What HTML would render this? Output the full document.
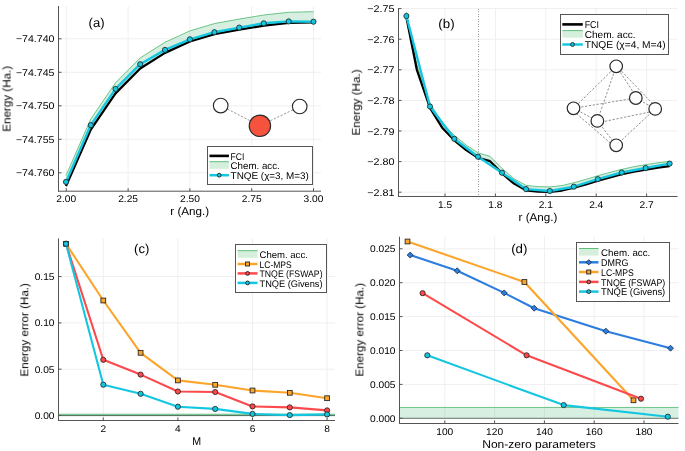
<!DOCTYPE html>
<html><head><meta charset="utf-8"><title>Energy plots</title>
<style>
html,body{margin:0;padding:0;background:#fff;}
body{width:685px;height:451px;overflow:hidden;}
svg{display:block;font-family:"Liberation Sans",sans-serif;}
text{will-change:transform;text-rendering:geometricPrecision;}
</style></head>
<body>
<svg width="685" height="451" viewBox="0 0 685 451">
<rect width="685" height="451" fill="#fff"/>
<line x1="66.3" y1="6" x2="66.3" y2="191.2" stroke="#efefef" stroke-width="1"/>
<line x1="128.1" y1="6" x2="128.1" y2="191.2" stroke="#efefef" stroke-width="1"/>
<line x1="189.9" y1="6" x2="189.9" y2="191.2" stroke="#efefef" stroke-width="1"/>
<line x1="251.7" y1="6" x2="251.7" y2="191.2" stroke="#efefef" stroke-width="1"/>
<line x1="313.5" y1="6" x2="313.5" y2="191.2" stroke="#efefef" stroke-width="1"/>
<line x1="58.5" y1="38.8" x2="321" y2="38.8" stroke="#efefef" stroke-width="1"/>
<line x1="58.5" y1="72.3" x2="321" y2="72.3" stroke="#efefef" stroke-width="1"/>
<line x1="58.5" y1="105.8" x2="321" y2="105.8" stroke="#efefef" stroke-width="1"/>
<line x1="58.5" y1="139.3" x2="321" y2="139.3" stroke="#efefef" stroke-width="1"/>
<line x1="58.5" y1="172.8" x2="321" y2="172.8" stroke="#efefef" stroke-width="1"/>
<polygon points="66,175.5 90.8,119 115.5,82.8 140.2,57.9 165,42.3 189.9,30.9 214.4,23.6 239.2,19.1 263.8,15 288.7,12.3 313.5,11.7 313.5,22.3 288.7,22.9 263.8,25.6 239.2,29.7 214.4,34.2 189.9,41.5 165,52.9 140.2,68.5 115.5,93.4 90.8,129.6 66,186.1" fill="#3cb371" stroke="none" fill-opacity="0.21"/>
<polyline points="66,175.5 90.8,119 115.5,82.8 140.2,57.9 165,42.3 189.9,30.9 214.4,23.6 239.2,19.1 263.8,15 288.7,12.3 313.5,11.7" fill="none" stroke="#6cc48a" stroke-width="1" stroke-linejoin="round" stroke-linecap="butt"/>
<polyline points="66,186.1 90.8,129.6 115.5,93.4 140.2,68.5 165,52.9 189.9,41.5 214.4,34.2 239.2,29.7 263.8,25.6 288.7,22.9 313.5,22.3" fill="none" stroke="#000" stroke-width="2.3" stroke-linejoin="round" stroke-linecap="butt"/>
<polyline points="66,181.9 90.8,125.1 115.5,88.9 140.2,64.2 165,49.9 189.9,39.3 214.4,32.2 239.2,27.6 263.8,23.3 288.7,21.4 313.5,21.7" fill="none" stroke="#14c6e0" stroke-width="2.4" stroke-linejoin="round" stroke-linecap="butt"/>
<circle cx="66" cy="181.9" r="2.6" fill="#14c6e0" stroke="#1e1e1e" stroke-width="0.8"/>
<circle cx="90.8" cy="125.1" r="2.6" fill="#14c6e0" stroke="#1e1e1e" stroke-width="0.8"/>
<circle cx="115.5" cy="88.9" r="2.6" fill="#14c6e0" stroke="#1e1e1e" stroke-width="0.8"/>
<circle cx="140.2" cy="64.2" r="2.6" fill="#14c6e0" stroke="#1e1e1e" stroke-width="0.8"/>
<circle cx="165" cy="49.9" r="2.6" fill="#14c6e0" stroke="#1e1e1e" stroke-width="0.8"/>
<circle cx="189.9" cy="39.3" r="2.6" fill="#14c6e0" stroke="#1e1e1e" stroke-width="0.8"/>
<circle cx="214.4" cy="32.2" r="2.6" fill="#14c6e0" stroke="#1e1e1e" stroke-width="0.8"/>
<circle cx="239.2" cy="27.6" r="2.6" fill="#14c6e0" stroke="#1e1e1e" stroke-width="0.8"/>
<circle cx="263.8" cy="23.3" r="2.6" fill="#14c6e0" stroke="#1e1e1e" stroke-width="0.8"/>
<circle cx="288.7" cy="21.4" r="2.6" fill="#14c6e0" stroke="#1e1e1e" stroke-width="0.8"/>
<circle cx="313.5" cy="21.7" r="2.6" fill="#14c6e0" stroke="#1e1e1e" stroke-width="0.8"/>
<line x1="220.7" y1="105.6" x2="259.9" y2="125.8" stroke="#8a8a8a" stroke-width="0.9" stroke-dasharray="2.2,1.6"/>
<line x1="299.7" y1="106.5" x2="259.9" y2="125.8" stroke="#8a8a8a" stroke-width="0.9" stroke-dasharray="2.2,1.6"/>
<circle cx="220.7" cy="105.6" r="7.3" fill="#fff" stroke="#2a2a2a" stroke-width="1.15"/>
<circle cx="299.7" cy="106.5" r="7.3" fill="#fff" stroke="#2a2a2a" stroke-width="1.15"/>
<circle cx="259.9" cy="125.8" r="10.7" fill="#f5533d" stroke="#2a2a2a" stroke-width="1.15"/>
<line x1="58.5" y1="6" x2="58.5" y2="191.7" stroke="#555555" stroke-width="1"/>
<line x1="58" y1="191.2" x2="321" y2="191.2" stroke="#555555" stroke-width="1"/>
<line x1="66.3" y1="191.2" x2="66.3" y2="188.2" stroke="#555555" stroke-width="1"/>
<line x1="128.1" y1="191.2" x2="128.1" y2="188.2" stroke="#555555" stroke-width="1"/>
<line x1="189.9" y1="191.2" x2="189.9" y2="188.2" stroke="#555555" stroke-width="1"/>
<line x1="251.7" y1="191.2" x2="251.7" y2="188.2" stroke="#555555" stroke-width="1"/>
<line x1="313.5" y1="191.2" x2="313.5" y2="188.2" stroke="#555555" stroke-width="1"/>
<line x1="58.5" y1="38.8" x2="61.5" y2="38.8" stroke="#555555" stroke-width="1"/>
<line x1="58.5" y1="72.3" x2="61.5" y2="72.3" stroke="#555555" stroke-width="1"/>
<line x1="58.5" y1="105.8" x2="61.5" y2="105.8" stroke="#555555" stroke-width="1"/>
<line x1="58.5" y1="139.3" x2="61.5" y2="139.3" stroke="#555555" stroke-width="1"/>
<line x1="58.5" y1="172.8" x2="61.5" y2="172.8" stroke="#555555" stroke-width="1"/>
<text x="66.3" y="202" font-size="9.79" text-anchor="middle" textLength="19.82" lengthAdjust="spacingAndGlyphs" fill="#000">2.00</text>
<text x="128.1" y="202" font-size="9.79" text-anchor="middle" textLength="19.82" lengthAdjust="spacingAndGlyphs" fill="#000">2.25</text>
<text x="189.9" y="202" font-size="9.79" text-anchor="middle" textLength="19.82" lengthAdjust="spacingAndGlyphs" fill="#000">2.50</text>
<text x="251.7" y="202" font-size="9.79" text-anchor="middle" textLength="19.82" lengthAdjust="spacingAndGlyphs" fill="#000">2.75</text>
<text x="313.5" y="202" font-size="9.79" text-anchor="middle" textLength="19.82" lengthAdjust="spacingAndGlyphs" fill="#000">3.00</text>
<text x="54.5" y="42.3" font-size="9.79" text-anchor="end" textLength="38.6" lengthAdjust="spacingAndGlyphs" fill="#000">−74.740</text>
<text x="54.5" y="75.8" font-size="9.79" text-anchor="end" textLength="38.6" lengthAdjust="spacingAndGlyphs" fill="#000">−74.745</text>
<text x="54.5" y="109.3" font-size="9.79" text-anchor="end" textLength="38.6" lengthAdjust="spacingAndGlyphs" fill="#000">−74.750</text>
<text x="54.5" y="142.8" font-size="9.79" text-anchor="end" textLength="38.6" lengthAdjust="spacingAndGlyphs" fill="#000">−74.755</text>
<text x="54.5" y="176.3" font-size="9.79" text-anchor="end" textLength="38.6" lengthAdjust="spacingAndGlyphs" fill="#000">−74.760</text>
<text x="189.75" y="214.8" font-size="11.33" text-anchor="middle" textLength="38.93" lengthAdjust="spacingAndGlyphs" fill="#000">r (Ang.)</text>
<text x="10.4" y="98.85" font-size="11.33" text-anchor="middle" textLength="66" lengthAdjust="spacingAndGlyphs" transform="rotate(-90 10.4 98.85)" fill="#000">Energy (Ha.)</text>
<text x="96.6" y="26.6" font-size="12.65" text-anchor="middle" textLength="16.02" lengthAdjust="spacingAndGlyphs" fill="#000">(a)</text>
<rect x="207.5" y="146.5" width="105" height="38" fill="#fff" stroke="#555" stroke-width="1"/>
<line x1="209.5" y1="155.9" x2="228.9" y2="155.9" stroke="#000" stroke-width="2.6"/>
<text x="230.6" y="159.71" font-size="9.68" text-anchor="start" textLength="13.8" lengthAdjust="spacingAndGlyphs" fill="#000">FCI</text>
<rect x="209.5" y="162" width="19.4" height="6.8" fill="#d6efdd"/>
<line x1="209.5" y1="161.7" x2="228.9" y2="161.7" stroke="#5cbf7a" stroke-width="1"/>
<text x="230.6" y="169.41" font-size="9.68" text-anchor="start" textLength="49.17" lengthAdjust="spacingAndGlyphs" fill="#000">Chem. acc.</text>
<line x1="209.5" y1="175.2" x2="228.9" y2="175.2" stroke="#14c6e0" stroke-width="2.5"/>
<circle cx="219.2" cy="175.2" r="1.9" fill="#14c6e0" stroke="#1e1e1e" stroke-width="0.9"/>
<text x="230.6" y="179.01" font-size="9.68" text-anchor="start" textLength="78.33" lengthAdjust="spacingAndGlyphs" fill="#000">TNQE (χ=3, M=3)</text>
<line x1="445" y1="8" x2="445" y2="196.5" stroke="#efefef" stroke-width="1"/>
<line x1="495.4" y1="8" x2="495.4" y2="196.5" stroke="#efefef" stroke-width="1"/>
<line x1="545.8" y1="8" x2="545.8" y2="196.5" stroke="#efefef" stroke-width="1"/>
<line x1="596.2" y1="8" x2="596.2" y2="196.5" stroke="#efefef" stroke-width="1"/>
<line x1="646.6" y1="8" x2="646.6" y2="196.5" stroke="#efefef" stroke-width="1"/>
<line x1="398.5" y1="8.6" x2="677.5" y2="8.6" stroke="#efefef" stroke-width="1"/>
<line x1="398.5" y1="39.2" x2="677.5" y2="39.2" stroke="#efefef" stroke-width="1"/>
<line x1="398.5" y1="69.8" x2="677.5" y2="69.8" stroke="#efefef" stroke-width="1"/>
<line x1="398.5" y1="100.4" x2="677.5" y2="100.4" stroke="#efefef" stroke-width="1"/>
<line x1="398.5" y1="131" x2="677.5" y2="131" stroke="#efefef" stroke-width="1"/>
<line x1="398.5" y1="161.6" x2="677.5" y2="161.6" stroke="#efefef" stroke-width="1"/>
<line x1="398.5" y1="192.2" x2="677.5" y2="192.2" stroke="#efefef" stroke-width="1"/>
<line x1="478.5" y1="8" x2="478.5" y2="196.5" stroke="#9c9c9c" stroke-width="1" stroke-dasharray="1,2,1,1" stroke-dashoffset="2"/>
<polygon points="406.4,12.3 416.9,65.1 430,103.1 442.2,122.8 454.3,135.4 466.2,145.1 478,152.9 490,156.3 502,168.4 514,178.7 526,185.4 538,186.7 550,186.9 562,185.6 574,182.7 586,179.4 598,175.7 610,172.4 622,169.3 634,166.7 646,164.6 658,162.8 669.6,161.3 669.6,166.2 658,167.7 646,169.5 634,171.6 622,174.2 610,177.3 598,180.6 586,184.3 574,187.6 562,190.5 550,191.8 538,191.6 526,190.3 514,183.6 502,173.3 490,161.2 478,157.8 466.2,150 454.3,140.3 442.2,127.7 430,108 416.9,70 406.4,17.2" fill="#3cb371" stroke="none" fill-opacity="0.21"/>
<polyline points="406.4,12.3 416.9,65.1 430,103.1 442.2,122.8 454.3,135.4 466.2,145.1 478,152.9 490,156.3 502,168.4 514,178.7 526,185.4 538,186.7 550,186.9 562,185.6 574,182.7 586,179.4 598,175.7 610,172.4 622,169.3 634,166.7 646,164.6 658,162.8 669.6,161.3" fill="none" stroke="#6cc48a" stroke-width="1" stroke-linejoin="round" stroke-linecap="butt"/>
<polyline points="406.4,17.2 416.9,70 430,108 442.2,127.7 454.3,140.3 466.2,150 478,157.8 490,161.2 502,173.3 514,183.6 526,190.3 538,191.6 550,191.8 562,190.5 574,187.6 586,184.3 598,180.6 610,177.3 622,174.2 634,171.6 646,169.5 658,167.7 669.6,166.2" fill="none" stroke="#000" stroke-width="2.3" stroke-linejoin="round" stroke-linecap="butt"/>
<polyline points="406.4,16 430,106.5 454.3,138.8 478,156.7 502,172.7 526,189.1 549.8,191 573.8,186.7 597.8,179.1 621.7,172.5 645.6,168 669.6,163.6" fill="none" stroke="#14c6e0" stroke-width="2.4" stroke-linejoin="round" stroke-linecap="butt"/>
<circle cx="406.4" cy="16" r="2.6" fill="#14c6e0" stroke="#1e1e1e" stroke-width="0.8"/>
<circle cx="430" cy="106.5" r="2.6" fill="#14c6e0" stroke="#1e1e1e" stroke-width="0.8"/>
<circle cx="454.3" cy="138.8" r="2.6" fill="#14c6e0" stroke="#1e1e1e" stroke-width="0.8"/>
<circle cx="478" cy="156.7" r="2.6" fill="#14c6e0" stroke="#1e1e1e" stroke-width="0.8"/>
<circle cx="502" cy="172.7" r="2.6" fill="#14c6e0" stroke="#1e1e1e" stroke-width="0.8"/>
<circle cx="526" cy="189.1" r="2.6" fill="#14c6e0" stroke="#1e1e1e" stroke-width="0.8"/>
<circle cx="549.8" cy="191" r="2.6" fill="#14c6e0" stroke="#1e1e1e" stroke-width="0.8"/>
<circle cx="573.8" cy="186.7" r="2.6" fill="#14c6e0" stroke="#1e1e1e" stroke-width="0.8"/>
<circle cx="597.8" cy="179.1" r="2.6" fill="#14c6e0" stroke="#1e1e1e" stroke-width="0.8"/>
<circle cx="621.7" cy="172.5" r="2.6" fill="#14c6e0" stroke="#1e1e1e" stroke-width="0.8"/>
<circle cx="645.6" cy="168" r="2.6" fill="#14c6e0" stroke="#1e1e1e" stroke-width="0.8"/>
<circle cx="669.6" cy="163.6" r="2.6" fill="#14c6e0" stroke="#1e1e1e" stroke-width="0.8"/>
<line x1="616.2" y1="66.3" x2="573.5" y2="108.3" stroke="#858585" stroke-width="0.9" stroke-dasharray="2.3,1.6"/>
<line x1="616.2" y1="66.3" x2="597.35" y2="120.9" stroke="#858585" stroke-width="0.9" stroke-dasharray="2.3,1.6"/>
<line x1="616.2" y1="66" x2="635.8" y2="96" stroke="#858585" stroke-width="0.9" stroke-dasharray="2.3,1.6"/>
<line x1="616.2" y1="65.6" x2="655.2" y2="106.4" stroke="#858585" stroke-width="0.9" stroke-dasharray="2.3,1.6"/>
<line x1="573.5" y1="111.1" x2="616.2" y2="148.1" stroke="#858585" stroke-width="0.9" stroke-dasharray="2.3,1.6"/>
<line x1="616.2" y1="145.3" x2="655.2" y2="108.9" stroke="#858585" stroke-width="0.9" stroke-dasharray="2.3,1.6"/>
<line x1="597.35" y1="120.9" x2="616.2" y2="145.3" stroke="#858585" stroke-width="0.9" stroke-dasharray="2.3,1.6"/>
<line x1="573.5" y1="108.3" x2="635.8" y2="98" stroke="#858585" stroke-width="0.9" stroke-dasharray="2.3,1.6"/>
<line x1="573.5" y1="108.3" x2="597.35" y2="120.9" stroke="#858585" stroke-width="0.9" stroke-dasharray="2.3,1.6"/>
<line x1="655.2" y1="108.9" x2="635.8" y2="98" stroke="#858585" stroke-width="0.9" stroke-dasharray="2.3,1.6"/>
<line x1="597.35" y1="122.9" x2="655.2" y2="110.9" stroke="#858585" stroke-width="0.9" stroke-dasharray="2.3,1.6"/>
<circle cx="635.8" cy="98" r="6.3" fill="#fff" stroke="#2a2a2a" stroke-width="1.2"/>
<circle cx="616.2" cy="66.3" r="6.3" fill="#fff" stroke="#2a2a2a" stroke-width="1.2"/>
<circle cx="573.5" cy="108.3" r="6.3" fill="#fff" stroke="#2a2a2a" stroke-width="1.2"/>
<circle cx="655.2" cy="108.9" r="6.3" fill="#fff" stroke="#2a2a2a" stroke-width="1.2"/>
<circle cx="597.35" cy="120.9" r="6.3" fill="#fff" stroke="#2a2a2a" stroke-width="1.2"/>
<circle cx="616.2" cy="145.3" r="6.3" fill="#fff" stroke="#2a2a2a" stroke-width="1.2"/>
<line x1="398.5" y1="8" x2="398.5" y2="197" stroke="#555555" stroke-width="1"/>
<line x1="398" y1="196.5" x2="677.5" y2="196.5" stroke="#555555" stroke-width="1"/>
<line x1="445" y1="196.5" x2="445" y2="193.5" stroke="#555555" stroke-width="1"/>
<line x1="495.4" y1="196.5" x2="495.4" y2="193.5" stroke="#555555" stroke-width="1"/>
<line x1="545.8" y1="196.5" x2="545.8" y2="193.5" stroke="#555555" stroke-width="1"/>
<line x1="596.2" y1="196.5" x2="596.2" y2="193.5" stroke="#555555" stroke-width="1"/>
<line x1="646.6" y1="196.5" x2="646.6" y2="193.5" stroke="#555555" stroke-width="1"/>
<line x1="398.5" y1="8.6" x2="401.5" y2="8.6" stroke="#555555" stroke-width="1"/>
<line x1="398.5" y1="39.2" x2="401.5" y2="39.2" stroke="#555555" stroke-width="1"/>
<line x1="398.5" y1="69.8" x2="401.5" y2="69.8" stroke="#555555" stroke-width="1"/>
<line x1="398.5" y1="100.4" x2="401.5" y2="100.4" stroke="#555555" stroke-width="1"/>
<line x1="398.5" y1="131" x2="401.5" y2="131" stroke="#555555" stroke-width="1"/>
<line x1="398.5" y1="161.6" x2="401.5" y2="161.6" stroke="#555555" stroke-width="1"/>
<line x1="398.5" y1="192.2" x2="401.5" y2="192.2" stroke="#555555" stroke-width="1"/>
<text x="445" y="208" font-size="9.79" text-anchor="middle" textLength="14.15" lengthAdjust="spacingAndGlyphs" fill="#000">1.5</text>
<text x="495.4" y="208" font-size="9.79" text-anchor="middle" textLength="14.15" lengthAdjust="spacingAndGlyphs" fill="#000">1.8</text>
<text x="545.8" y="208" font-size="9.79" text-anchor="middle" textLength="14.15" lengthAdjust="spacingAndGlyphs" fill="#000">2.1</text>
<text x="596.2" y="208" font-size="9.79" text-anchor="middle" textLength="14.15" lengthAdjust="spacingAndGlyphs" fill="#000">2.4</text>
<text x="646.6" y="208" font-size="9.79" text-anchor="middle" textLength="14.15" lengthAdjust="spacingAndGlyphs" fill="#000">2.7</text>
<text x="394.5" y="12.1" font-size="9.79" text-anchor="end" textLength="27.27" lengthAdjust="spacingAndGlyphs" fill="#000">−2.75</text>
<text x="394.5" y="42.7" font-size="9.79" text-anchor="end" textLength="27.27" lengthAdjust="spacingAndGlyphs" fill="#000">−2.76</text>
<text x="394.5" y="73.3" font-size="9.79" text-anchor="end" textLength="27.27" lengthAdjust="spacingAndGlyphs" fill="#000">−2.77</text>
<text x="394.5" y="103.9" font-size="9.79" text-anchor="end" textLength="27.27" lengthAdjust="spacingAndGlyphs" fill="#000">−2.78</text>
<text x="394.5" y="134.5" font-size="9.79" text-anchor="end" textLength="27.27" lengthAdjust="spacingAndGlyphs" fill="#000">−2.79</text>
<text x="394.5" y="165.1" font-size="9.79" text-anchor="end" textLength="27.27" lengthAdjust="spacingAndGlyphs" fill="#000">−2.80</text>
<text x="394.5" y="195.7" font-size="9.79" text-anchor="end" textLength="27.27" lengthAdjust="spacingAndGlyphs" fill="#000">−2.81</text>
<text x="538" y="220.6" font-size="11.33" text-anchor="middle" textLength="38.93" lengthAdjust="spacingAndGlyphs" fill="#000">r (Ang.)</text>
<text x="360.3" y="102.4" font-size="11.33" text-anchor="middle" textLength="66" lengthAdjust="spacingAndGlyphs" transform="rotate(-90 360.3 102.4)" fill="#000">Energy (Ha.)</text>
<text x="446.5" y="28" font-size="12.65" text-anchor="middle" textLength="16.27" lengthAdjust="spacingAndGlyphs" fill="#000">(b)</text>
<rect x="560.5" y="14.5" width="108" height="40" fill="#fff" stroke="#555" stroke-width="1"/>
<line x1="562.3" y1="24.4" x2="582.8" y2="24.4" stroke="#000" stroke-width="2.6"/>
<text x="584.7" y="28.32" font-size="10.01" text-anchor="start" textLength="14.27" lengthAdjust="spacingAndGlyphs" fill="#000">FCI</text>
<rect x="562.3" y="30.9" width="20.5" height="6.8" fill="#d6efdd"/>
<line x1="562.3" y1="30.6" x2="582.8" y2="30.6" stroke="#5cbf7a" stroke-width="1"/>
<text x="584.7" y="38.42" font-size="10.01" text-anchor="start" textLength="50.85" lengthAdjust="spacingAndGlyphs" fill="#000">Chem. acc.</text>
<line x1="562.3" y1="44.5" x2="582.8" y2="44.5" stroke="#14c6e0" stroke-width="2.5"/>
<circle cx="572.55" cy="44.5" r="1.9" fill="#14c6e0" stroke="#1e1e1e" stroke-width="0.9"/>
<text x="584.7" y="48.42" font-size="10.01" text-anchor="start" textLength="81" lengthAdjust="spacingAndGlyphs" fill="#000">TNQE (χ=4, M=4)</text>
<line x1="103.3" y1="238.4" x2="103.3" y2="420.5" stroke="#efefef" stroke-width="1"/>
<line x1="177.9" y1="238.4" x2="177.9" y2="420.5" stroke="#efefef" stroke-width="1"/>
<line x1="252.5" y1="238.4" x2="252.5" y2="420.5" stroke="#efefef" stroke-width="1"/>
<line x1="327.1" y1="238.4" x2="327.1" y2="420.5" stroke="#efefef" stroke-width="1"/>
<line x1="58.5" y1="415.5" x2="335" y2="415.5" stroke="#efefef" stroke-width="1"/>
<line x1="58.5" y1="369.2" x2="335" y2="369.2" stroke="#efefef" stroke-width="1"/>
<line x1="58.5" y1="322.9" x2="335" y2="322.9" stroke="#efefef" stroke-width="1"/>
<line x1="58.5" y1="276.6" x2="335" y2="276.6" stroke="#efefef" stroke-width="1"/>
<rect x="58.5" y="414.02" width="276.5" height="1.48" fill="#3cb371" fill-opacity="0.21"/>
<line x1="58.5" y1="414.32" x2="335" y2="414.32" stroke="#5cbd7c" stroke-width="1.1"/>
<line x1="58.5" y1="415.6" x2="335" y2="415.6" stroke="#4d6b58" stroke-width="1"/>
<polyline points="66,243.8 103.3,300.5 140.6,352.8 177.9,380.4 215.2,384.8 252.5,390.5 289.8,392.8 327.1,398.2" fill="none" stroke="#fba52a" stroke-width="2.1" stroke-linejoin="round" stroke-linecap="butt"/>
<rect x="63.6" y="241.4" width="4.8" height="4.8" fill="#fba52a" stroke="#222" stroke-width="0.85"/>
<rect x="100.9" y="298.1" width="4.8" height="4.8" fill="#fba52a" stroke="#222" stroke-width="0.85"/>
<rect x="138.2" y="350.4" width="4.8" height="4.8" fill="#fba52a" stroke="#222" stroke-width="0.85"/>
<rect x="175.5" y="378" width="4.8" height="4.8" fill="#fba52a" stroke="#222" stroke-width="0.85"/>
<rect x="212.8" y="382.4" width="4.8" height="4.8" fill="#fba52a" stroke="#222" stroke-width="0.85"/>
<rect x="250.1" y="388.1" width="4.8" height="4.8" fill="#fba52a" stroke="#222" stroke-width="0.85"/>
<rect x="287.4" y="390.4" width="4.8" height="4.8" fill="#fba52a" stroke="#222" stroke-width="0.85"/>
<rect x="324.7" y="395.8" width="4.8" height="4.8" fill="#fba52a" stroke="#222" stroke-width="0.85"/>
<polyline points="66,243.8 103.3,359.8 140.6,374.6 177.9,391.5 215.2,392 252.5,406.4 289.8,407.4 327.1,410.4" fill="none" stroke="#fc4a4c" stroke-width="2.1" stroke-linejoin="round" stroke-linecap="butt"/>
<circle cx="66" cy="243.8" r="2.6" fill="#fc4a4c" stroke="#1e1e1e" stroke-width="0.8"/>
<circle cx="103.3" cy="359.8" r="2.6" fill="#fc4a4c" stroke="#1e1e1e" stroke-width="0.8"/>
<circle cx="140.6" cy="374.6" r="2.6" fill="#fc4a4c" stroke="#1e1e1e" stroke-width="0.8"/>
<circle cx="177.9" cy="391.5" r="2.6" fill="#fc4a4c" stroke="#1e1e1e" stroke-width="0.8"/>
<circle cx="215.2" cy="392" r="2.6" fill="#fc4a4c" stroke="#1e1e1e" stroke-width="0.8"/>
<circle cx="252.5" cy="406.4" r="2.6" fill="#fc4a4c" stroke="#1e1e1e" stroke-width="0.8"/>
<circle cx="289.8" cy="407.4" r="2.6" fill="#fc4a4c" stroke="#1e1e1e" stroke-width="0.8"/>
<circle cx="327.1" cy="410.4" r="2.6" fill="#fc4a4c" stroke="#1e1e1e" stroke-width="0.8"/>
<polyline points="66,243.8 103.3,384.7 140.6,393.8 177.9,406.7 215.2,408.9 252.5,413.9 289.8,415.1 327.1,414.4" fill="none" stroke="#14c6e0" stroke-width="2.1" stroke-linejoin="round" stroke-linecap="butt"/>
<circle cx="66" cy="243.8" r="2.6" fill="#14c6e0" stroke="#1e1e1e" stroke-width="0.8"/>
<circle cx="103.3" cy="384.7" r="2.6" fill="#14c6e0" stroke="#1e1e1e" stroke-width="0.8"/>
<circle cx="140.6" cy="393.8" r="2.6" fill="#14c6e0" stroke="#1e1e1e" stroke-width="0.8"/>
<circle cx="177.9" cy="406.7" r="2.6" fill="#14c6e0" stroke="#1e1e1e" stroke-width="0.8"/>
<circle cx="215.2" cy="408.9" r="2.6" fill="#14c6e0" stroke="#1e1e1e" stroke-width="0.8"/>
<circle cx="252.5" cy="413.9" r="2.6" fill="#14c6e0" stroke="#1e1e1e" stroke-width="0.8"/>
<circle cx="289.8" cy="415.1" r="2.6" fill="#14c6e0" stroke="#1e1e1e" stroke-width="0.8"/>
<circle cx="327.1" cy="414.4" r="2.6" fill="#14c6e0" stroke="#1e1e1e" stroke-width="0.8"/>
<line x1="58.5" y1="238.4" x2="58.5" y2="421" stroke="#555555" stroke-width="1"/>
<line x1="58" y1="420.5" x2="335" y2="420.5" stroke="#555555" stroke-width="1"/>
<line x1="103.3" y1="420.5" x2="103.3" y2="417.5" stroke="#555555" stroke-width="1"/>
<line x1="177.9" y1="420.5" x2="177.9" y2="417.5" stroke="#555555" stroke-width="1"/>
<line x1="252.5" y1="420.5" x2="252.5" y2="417.5" stroke="#555555" stroke-width="1"/>
<line x1="327.1" y1="420.5" x2="327.1" y2="417.5" stroke="#555555" stroke-width="1"/>
<line x1="58.5" y1="415.5" x2="61.5" y2="415.5" stroke="#555555" stroke-width="1"/>
<line x1="58.5" y1="369.2" x2="61.5" y2="369.2" stroke="#555555" stroke-width="1"/>
<line x1="58.5" y1="322.9" x2="61.5" y2="322.9" stroke="#555555" stroke-width="1"/>
<line x1="58.5" y1="276.6" x2="61.5" y2="276.6" stroke="#555555" stroke-width="1"/>
<text x="103.3" y="432.3" font-size="9.79" text-anchor="middle" textLength="5.66" lengthAdjust="spacingAndGlyphs" fill="#000">2</text>
<text x="177.9" y="432.3" font-size="9.79" text-anchor="middle" textLength="5.66" lengthAdjust="spacingAndGlyphs" fill="#000">4</text>
<text x="252.5" y="432.3" font-size="9.79" text-anchor="middle" textLength="5.66" lengthAdjust="spacingAndGlyphs" fill="#000">6</text>
<text x="327.1" y="432.3" font-size="9.79" text-anchor="middle" textLength="5.66" lengthAdjust="spacingAndGlyphs" fill="#000">8</text>
<text x="54.5" y="419" font-size="9.79" text-anchor="end" textLength="19.82" lengthAdjust="spacingAndGlyphs" fill="#000">0.00</text>
<text x="54.5" y="372.7" font-size="9.79" text-anchor="end" textLength="19.82" lengthAdjust="spacingAndGlyphs" fill="#000">0.05</text>
<text x="54.5" y="326.4" font-size="9.79" text-anchor="end" textLength="19.82" lengthAdjust="spacingAndGlyphs" fill="#000">0.10</text>
<text x="54.5" y="280.1" font-size="9.79" text-anchor="end" textLength="19.82" lengthAdjust="spacingAndGlyphs" fill="#000">0.15</text>
<text x="196.75" y="444.5" font-size="11.33" text-anchor="middle" textLength="8.89" lengthAdjust="spacingAndGlyphs" fill="#000">M</text>
<text x="28.2" y="329.9" font-size="11.33" text-anchor="middle" textLength="93.5" lengthAdjust="spacingAndGlyphs" transform="rotate(-90 28.2 329.9)" fill="#000">Energy error (Ha.)</text>
<text x="141.7" y="253.4" font-size="12.65" text-anchor="middle" textLength="15.3" lengthAdjust="spacingAndGlyphs" fill="#000">(c)</text>
<rect x="235.5" y="244.5" width="91" height="48" fill="#fff" stroke="#555" stroke-width="1"/>
<rect x="237.6" y="251" width="19.9" height="6.8" fill="#d6efdd"/>
<line x1="237.6" y1="250.7" x2="257.5" y2="250.7" stroke="#5cbf7a" stroke-width="1"/>
<text x="259.5" y="258.35" font-size="9.52" text-anchor="start" textLength="48.33" lengthAdjust="spacingAndGlyphs" fill="#000">Chem. acc.</text>
<line x1="237.6" y1="264" x2="257.5" y2="264" stroke="#fba52a" stroke-width="2.5"/>
<rect x="245.55" y="262" width="4" height="4" fill="#fba52a" stroke="#222" stroke-width="0.9"/>
<text x="259.5" y="267.75" font-size="9.52" text-anchor="start" textLength="32.15" lengthAdjust="spacingAndGlyphs" fill="#000">LC-MPS</text>
<line x1="237.6" y1="273.4" x2="257.5" y2="273.4" stroke="#fc4a4c" stroke-width="2.5"/>
<circle cx="247.55" cy="273.4" r="1.9" fill="#fc4a4c" stroke="#1e1e1e" stroke-width="0.9"/>
<text x="259.5" y="277.15" font-size="9.52" text-anchor="start" textLength="63.06" lengthAdjust="spacingAndGlyphs" fill="#000">TNQE (FSWAP)</text>
<line x1="237.6" y1="282.9" x2="257.5" y2="282.9" stroke="#14c6e0" stroke-width="2.5"/>
<circle cx="247.55" cy="282.9" r="1.9" fill="#14c6e0" stroke="#1e1e1e" stroke-width="0.9"/>
<text x="259.5" y="286.65" font-size="9.52" text-anchor="start" textLength="63.06" lengthAdjust="spacingAndGlyphs" fill="#000">TNQE (Givens)</text>
<line x1="444.8" y1="236.7" x2="444.8" y2="423.5" stroke="#efefef" stroke-width="1"/>
<line x1="494.6" y1="236.7" x2="494.6" y2="423.5" stroke="#efefef" stroke-width="1"/>
<line x1="544.4" y1="236.7" x2="544.4" y2="423.5" stroke="#efefef" stroke-width="1"/>
<line x1="594.2" y1="236.7" x2="594.2" y2="423.5" stroke="#efefef" stroke-width="1"/>
<line x1="644" y1="236.7" x2="644" y2="423.5" stroke="#efefef" stroke-width="1"/>
<line x1="399.5" y1="418.3" x2="678.5" y2="418.3" stroke="#efefef" stroke-width="1"/>
<line x1="399.5" y1="384.4" x2="678.5" y2="384.4" stroke="#efefef" stroke-width="1"/>
<line x1="399.5" y1="350.5" x2="678.5" y2="350.5" stroke="#efefef" stroke-width="1"/>
<line x1="399.5" y1="316.6" x2="678.5" y2="316.6" stroke="#efefef" stroke-width="1"/>
<line x1="399.5" y1="282.7" x2="678.5" y2="282.7" stroke="#efefef" stroke-width="1"/>
<line x1="399.5" y1="248.8" x2="678.5" y2="248.8" stroke="#efefef" stroke-width="1"/>
<rect x="399.5" y="407.45" width="279" height="10.85" fill="#3cb371" fill-opacity="0.21"/>
<line x1="399.5" y1="407.45" x2="678.5" y2="407.45" stroke="#6cc48a" stroke-width="1"/>
<line x1="399.5" y1="418.3" x2="678.5" y2="418.3" stroke="#6a7a70" stroke-width="1"/>
<polyline points="410.2,255.1 457.2,270.8 504.2,292.9 534.2,308.2 605.9,331.2 670.5,348.2" fill="none" stroke="#2c7ddf" stroke-width="2.1" stroke-linejoin="round" stroke-linecap="butt"/>
<polygon points="410.2,252.1 413.2,255.1 410.2,258.1 407.2,255.1" fill="#2c7ddf" stroke="#1b2840" stroke-width="0.8"/>
<polygon points="457.2,267.8 460.2,270.8 457.2,273.8 454.2,270.8" fill="#2c7ddf" stroke="#1b2840" stroke-width="0.8"/>
<polygon points="504.2,289.9 507.2,292.9 504.2,295.9 501.2,292.9" fill="#2c7ddf" stroke="#1b2840" stroke-width="0.8"/>
<polygon points="534.2,305.2 537.2,308.2 534.2,311.2 531.2,308.2" fill="#2c7ddf" stroke="#1b2840" stroke-width="0.8"/>
<polygon points="605.9,328.2 608.9,331.2 605.9,334.2 602.9,331.2" fill="#2c7ddf" stroke="#1b2840" stroke-width="0.8"/>
<polygon points="670.5,345.2 673.5,348.2 670.5,351.2 667.5,348.2" fill="#2c7ddf" stroke="#1b2840" stroke-width="0.8"/>
<polyline points="407.5,241.5 524.4,282 633.5,400.3" fill="none" stroke="#fba52a" stroke-width="2.1" stroke-linejoin="round" stroke-linecap="butt"/>
<rect x="405.1" y="239.1" width="4.8" height="4.8" fill="#fba52a" stroke="#222" stroke-width="0.85"/>
<rect x="522" y="279.6" width="4.8" height="4.8" fill="#fba52a" stroke="#222" stroke-width="0.85"/>
<rect x="631.1" y="397.9" width="4.8" height="4.8" fill="#fba52a" stroke="#222" stroke-width="0.85"/>
<polyline points="422.6,293.2 526.6,355.3 641,398.7" fill="none" stroke="#fc4a4c" stroke-width="2.1" stroke-linejoin="round" stroke-linecap="butt"/>
<circle cx="422.6" cy="293.2" r="2.6" fill="#fc4a4c" stroke="#1e1e1e" stroke-width="0.8"/>
<circle cx="526.6" cy="355.3" r="2.6" fill="#fc4a4c" stroke="#1e1e1e" stroke-width="0.8"/>
<circle cx="641" cy="398.7" r="2.6" fill="#fc4a4c" stroke="#1e1e1e" stroke-width="0.8"/>
<polyline points="427.3,355.3 563.7,405.1 667.8,416.7" fill="none" stroke="#14c6e0" stroke-width="2.1" stroke-linejoin="round" stroke-linecap="butt"/>
<circle cx="427.3" cy="355.3" r="2.6" fill="#14c6e0" stroke="#1e1e1e" stroke-width="0.8"/>
<circle cx="563.7" cy="405.1" r="2.6" fill="#14c6e0" stroke="#1e1e1e" stroke-width="0.8"/>
<circle cx="667.8" cy="416.7" r="2.6" fill="#14c6e0" stroke="#1e1e1e" stroke-width="0.8"/>
<line x1="399.5" y1="236.7" x2="399.5" y2="424" stroke="#555555" stroke-width="1"/>
<line x1="399" y1="423.5" x2="678.5" y2="423.5" stroke="#555555" stroke-width="1"/>
<line x1="444.8" y1="423.5" x2="444.8" y2="420.5" stroke="#555555" stroke-width="1"/>
<line x1="494.6" y1="423.5" x2="494.6" y2="420.5" stroke="#555555" stroke-width="1"/>
<line x1="544.4" y1="423.5" x2="544.4" y2="420.5" stroke="#555555" stroke-width="1"/>
<line x1="594.2" y1="423.5" x2="594.2" y2="420.5" stroke="#555555" stroke-width="1"/>
<line x1="644" y1="423.5" x2="644" y2="420.5" stroke="#555555" stroke-width="1"/>
<line x1="399.5" y1="418.3" x2="402.5" y2="418.3" stroke="#555555" stroke-width="1"/>
<line x1="399.5" y1="384.4" x2="402.5" y2="384.4" stroke="#555555" stroke-width="1"/>
<line x1="399.5" y1="350.5" x2="402.5" y2="350.5" stroke="#555555" stroke-width="1"/>
<line x1="399.5" y1="316.6" x2="402.5" y2="316.6" stroke="#555555" stroke-width="1"/>
<line x1="399.5" y1="282.7" x2="402.5" y2="282.7" stroke="#555555" stroke-width="1"/>
<line x1="399.5" y1="248.8" x2="402.5" y2="248.8" stroke="#555555" stroke-width="1"/>
<text x="444.8" y="435.2" font-size="9.79" text-anchor="middle" textLength="16.99" lengthAdjust="spacingAndGlyphs" fill="#000">100</text>
<text x="494.6" y="435.2" font-size="9.79" text-anchor="middle" textLength="16.99" lengthAdjust="spacingAndGlyphs" fill="#000">120</text>
<text x="544.4" y="435.2" font-size="9.79" text-anchor="middle" textLength="16.99" lengthAdjust="spacingAndGlyphs" fill="#000">140</text>
<text x="594.2" y="435.2" font-size="9.79" text-anchor="middle" textLength="16.99" lengthAdjust="spacingAndGlyphs" fill="#000">160</text>
<text x="644" y="435.2" font-size="9.79" text-anchor="middle" textLength="16.99" lengthAdjust="spacingAndGlyphs" fill="#000">180</text>
<text x="395.5" y="421.8" font-size="9.79" text-anchor="end" textLength="25.48" lengthAdjust="spacingAndGlyphs" fill="#000">0.000</text>
<text x="395.5" y="387.9" font-size="9.79" text-anchor="end" textLength="25.48" lengthAdjust="spacingAndGlyphs" fill="#000">0.005</text>
<text x="395.5" y="354" font-size="9.79" text-anchor="end" textLength="25.48" lengthAdjust="spacingAndGlyphs" fill="#000">0.010</text>
<text x="395.5" y="320.1" font-size="9.79" text-anchor="end" textLength="25.48" lengthAdjust="spacingAndGlyphs" fill="#000">0.015</text>
<text x="395.5" y="286.2" font-size="9.79" text-anchor="end" textLength="25.48" lengthAdjust="spacingAndGlyphs" fill="#000">0.020</text>
<text x="395.5" y="252.3" font-size="9.79" text-anchor="end" textLength="25.48" lengthAdjust="spacingAndGlyphs" fill="#000">0.025</text>
<text x="539" y="447.6" font-size="11.33" text-anchor="middle" textLength="113.5" lengthAdjust="spacingAndGlyphs" fill="#000">Non-zero parameters</text>
<text x="363.1" y="329.7" font-size="11.33" text-anchor="middle" textLength="93.5" lengthAdjust="spacingAndGlyphs" transform="rotate(-90 363.1 329.7)" fill="#000">Energy error (Ha.)</text>
<rect x="511.3" y="246.5" width="16.6" height="4" fill="#fff"/>
<text x="519.3" y="253.3" font-size="12.65" text-anchor="middle" textLength="16.27" lengthAdjust="spacingAndGlyphs" fill="#000">(d)</text>
<rect x="576.5" y="242.5" width="93" height="59" fill="#fff" stroke="#555" stroke-width="1"/>
<rect x="579" y="248.8" width="19.5" height="6.8" fill="#d6efdd"/>
<line x1="579" y1="248.5" x2="598.5" y2="248.5" stroke="#5cbf7a" stroke-width="1"/>
<text x="601.1" y="256.21" font-size="9.68" text-anchor="start" textLength="49.17" lengthAdjust="spacingAndGlyphs" fill="#000">Chem. acc.</text>
<line x1="579" y1="262.3" x2="598.5" y2="262.3" stroke="#2c7ddf" stroke-width="2.5"/>
<polygon points="588.75,259.7 591.35,262.3 588.75,264.9 586.15,262.3" fill="#2c7ddf" stroke="#1b2840" stroke-width="0.9"/>
<text x="601.1" y="266.11" font-size="9.68" text-anchor="start" textLength="27.3" lengthAdjust="spacingAndGlyphs" fill="#000">DMRG</text>
<line x1="579" y1="272" x2="598.5" y2="272" stroke="#fba52a" stroke-width="2.5"/>
<rect x="586.75" y="270" width="4" height="4" fill="#fba52a" stroke="#222" stroke-width="0.9"/>
<text x="601.1" y="275.81" font-size="9.68" text-anchor="start" textLength="32.71" lengthAdjust="spacingAndGlyphs" fill="#000">LC-MPS</text>
<line x1="579" y1="281.9" x2="598.5" y2="281.9" stroke="#fc4a4c" stroke-width="2.5"/>
<circle cx="588.75" cy="281.9" r="1.9" fill="#fc4a4c" stroke="#1e1e1e" stroke-width="0.9"/>
<text x="601.1" y="285.71" font-size="9.68" text-anchor="start" textLength="64.15" lengthAdjust="spacingAndGlyphs" fill="#000">TNQE (FSWAP)</text>
<line x1="579" y1="291.6" x2="598.5" y2="291.6" stroke="#14c6e0" stroke-width="2.5"/>
<circle cx="588.75" cy="291.6" r="1.9" fill="#14c6e0" stroke="#1e1e1e" stroke-width="0.9"/>
<text x="601.1" y="295.41" font-size="9.68" text-anchor="start" textLength="64.16" lengthAdjust="spacingAndGlyphs" fill="#000">TNQE (Givens)</text>
</svg>
</body></html>
